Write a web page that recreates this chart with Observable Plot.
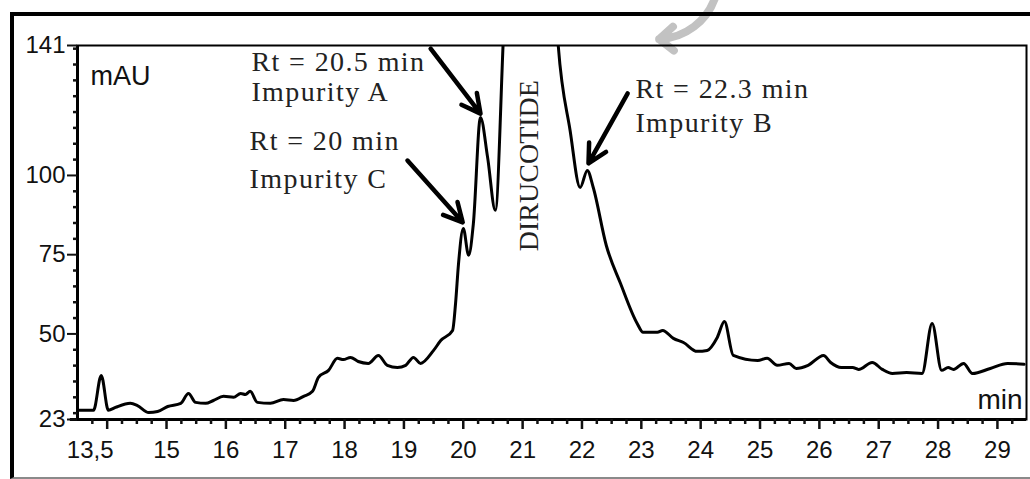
<!DOCTYPE html>
<html>
<head>
<meta charset="utf-8">
<script src="https://cdn.jsdelivr.net/npm/d3@7"></script>
<script src="https://cdn.jsdelivr.net/npm/@observablehq/plot@0.6"></script>
<style>
html, body { margin: 0; padding: 0; background: #fff; overflow: hidden; width: 1030px; height: 479px; }
#wrap { position: relative; width: 1030px; height: 479px; overflow: hidden; }
#chart { position: absolute; left: 0; top: 0; }
#frame { position: absolute; left: 10px; top: 12px; width: 1100px; height: 461px;
  border-left: 4px solid #000; border-top: 4px solid #000; border-bottom: 2px solid #8a8a8a; pointer-events: none; }
</style>
</head>
<body>
<div id="wrap"><div id="chart"></div><div id="frame"></div></div>
<script>
// Retention time (min)
const time = [13.50, 13.77, 13.90, 14.02, 14.14, 14.39, 14.51, 14.70, 14.85, 15.02,
  15.24, 15.37, 15.49, 15.66, 15.79, 15.96, 16.13, 16.25, 16.33, 16.41,
  16.53, 16.75, 16.97, 17.14, 17.31, 17.46, 17.56, 17.73, 17.88, 17.98,
  18.10, 18.23, 18.40, 18.57, 18.72, 18.89, 19.03, 19.16, 19.28, 19.50,
  19.62, 19.82, 19.87, 19.92, 20.00, 20.09, 20.17, 20.29, 20.41, 20.54,
  20.67, 21.10, 21.60, 21.80, 21.97, 22.09, 22.19, 22.41, 22.65, 22.93,
  23.03, 23.27, 23.36, 23.54, 23.71, 23.94, 24.11, 24.28, 24.40, 24.55,
  24.96, 25.12, 25.29, 25.49, 25.61, 25.81, 26.07, 26.19, 26.37, 26.56,
  26.66, 26.89, 27.06, 27.23, 27.47, 27.73, 27.90, 28.06, 28.17, 28.26,
  28.43, 28.58, 28.88, 29.17, 29.45];
// Absorbance (mAU); main DIRUCOTIDE peak goes off scale
const absorbance = [25.9, 25.9, 36.9, 25.9, 26.8, 28.1, 27.4, 25.2, 25.5, 27.1,
  28.1, 31.2, 28.4, 28.1, 29.0, 30.3, 30.0, 31.2, 30.9, 31.9,
  28.4, 28.1, 29.3, 29.0, 30.3, 31.9, 36.3, 38.5, 42.3, 41.9,
  42.6, 41.3, 40.7, 43.2, 40.1, 39.4, 40.1, 42.6, 40.7, 44.8,
  47.9, 51.1, 59.6, 72.2, 83.3, 74.8, 84.8, 118.3, 105.7, 89.0,
  141, 400, 141, 114.2, 96.2, 101.6, 96.2, 77.9, 65.9, 53.3,
  50.5, 50.5, 51.1, 48.6, 47.3, 44.5, 44.8, 48.9, 53.9, 43.2,
  41.6, 42.3, 40.1, 40.7, 39.1, 40.1, 43.2, 41.0, 39.4, 39.4,
  38.8, 41.0, 38.8, 37.5, 37.8, 37.5, 53.3, 38.5, 39.4, 38.8,
  40.7, 37.5, 39.1, 40.7, 40.4];

const xTicks = [14, 15, 16, 17, 18, 19, 20, 21, 22, 23, 24, 25, 26, 27, 28, 29];
const xTickLabels = ["13,5", "15", "16", "17", "18", "19", "20", "21", "22", "23", "24", "25", "26", "27", "28", "29"];
const yTicks = [23, 50, 75, 100, 141];
const yTickLabels = ["23", "50", "75", "100", "141"];
const xMinorTicks = d3.range(13.75, 29.5, 0.25).filter(d => !xTicks.includes(d));
const yMinorTicks = d3.range(25, 141, 5).filter(d => !yTicks.includes(d));

// Annotation labels (anchored in data units: min, mAU)
const labelText = ["Rt = 20.5 min", "Impurity A", "Rt = 20 min", "Impurity C", "Rt = 22.3 min", "Impurity B"];
const labelTime = [16.43, 16.43, 16.40, 16.40, 22.90, 22.90];
const labelMAU = [133.0, 123.4, 107.9, 95.9, 124.3, 113.6];
// Arrows pointing to impurity peaks
const arrowFromTime = [19.45, 19.06, 22.77];
const arrowFromMAU = [140.0, 104.7, 125.9];
const arrowToTime = [20.29, 19.99, 22.11];
const arrowToMAU = [119.5, 85.2, 103.8];

const data = time.map((t, i) => ({t, v: absorbance[i]}));
const labels = labelText.map((s, i) => ({s, t: labelTime[i], v: labelMAU[i]}));
const arrows = arrowFromTime.map((t, i) => ({x1: t, y1: arrowFromMAU[i], x2: arrowToTime[i], y2: arrowToMAU[i]}));

const sans = "'Liberation Sans', Arial, sans-serif";
const serif = "'Liberation Serif', 'Times New Roman', serif";

const chart = Plot.plot({
  width: 1030,
  height: 479,
  marginLeft: 77,
  marginRight: 4,
  marginTop: 45,
  marginBottom: 60,
  style: {fontFamily: sans, fontSize: "24px", background: "transparent", overflow: "visible", color: "#111"},
  x: {domain: [13.5, 29.49]},
  y: {domain: [23, 141]},
  marks: [
    // decorative grey curved arrow above the frame
    Plot.arrow([{x1: 24.25, y1: 156.5, x2: 23.3, y2: 143.0}], {x1: "x1", y1: "y1", x2: "x2", y2: "y2", bend: 35, stroke: "#c2c2c2", strokeWidth: 8, headLength: 3.5, headAngle: 80, clip: false}),
    Plot.frame({stroke: "#000", strokeWidth: 2}),
    Plot.ruleX([13.5], {stroke: "#000", strokeWidth: 3}),
    Plot.ruleY([23], {stroke: "#000", strokeWidth: 3, x1: 13.38, x2: 29.49, clip: false}),
    Plot.axisX(xTicks, {tickSize: 10, tickPadding: 11, strokeWidth: 2.5, tickFormat: (d, i) => i === 0 ? "" : xTickLabels[i], fontSize: 24, fill: "#111"}),
    Plot.axisX(xMinorTicks, {tickSize: 5, strokeWidth: 2.5, tickFormat: () => ""}),
    Plot.text([xTickLabels[0]], {x: () => xTicks[0], frameAnchor: "bottom", dy: 21, dx: -17, lineAnchor: "top", fontSize: 24, fill: "#111"}),
    Plot.axisY(yTicks, {tickSize: 10, tickPadding: 2, strokeWidth: 2, tickFormat: (d, i) => yTickLabels[i], fontSize: 24, fill: "#111"}),
    Plot.axisY(yMinorTicks, {tickSize: 4, strokeWidth: 2.5, tickFormat: () => ""}),
    Plot.text(["mAU"], {frameAnchor: "top-left", dx: 13, dy: 20, textAnchor: "start", lineAnchor: "top", fontSize: 27, fill: "#111"}),
    Plot.text(["min"], {frameAnchor: "bottom-right", dx: -4, dy: -11, textAnchor: "end", lineAnchor: "bottom", fontSize: 28, fill: "#111"}),
    Plot.line(data, {x: "t", y: "v", stroke: "#000", strokeWidth: 3, clip: true, curve: "monotone-x", strokeLinejoin: "round"}),
    Plot.text(["DIRUCOTIDE"], {x: () => 21.11, y: () => 103.1, rotate: -90, fontFamily: serif, fontSize: 28, fill: "#222", textAnchor: "middle", lineAnchor: "middle"}),
    Plot.text(labels, {x: "t", y: "v", text: "s", fontFamily: serif, fontSize: 28, fill: "#222", textAnchor: "start", lineAnchor: "bottom"}),
    Plot.arrow(arrows, {x1: "x1", y1: "y1", x2: "x2", y2: "y2", stroke: "#000", strokeWidth: 4.5, headLength: 7, headAngle: 55})
  ]
});
d3.select(chart).selectAll("text")
  .filter(function() { return labelText.includes(this.textContent); })
  .attr("letter-spacing", "1.4")
  .style("letter-spacing", "1.4px");
document.getElementById("chart").append(chart);
</script>
</body>
</html>
